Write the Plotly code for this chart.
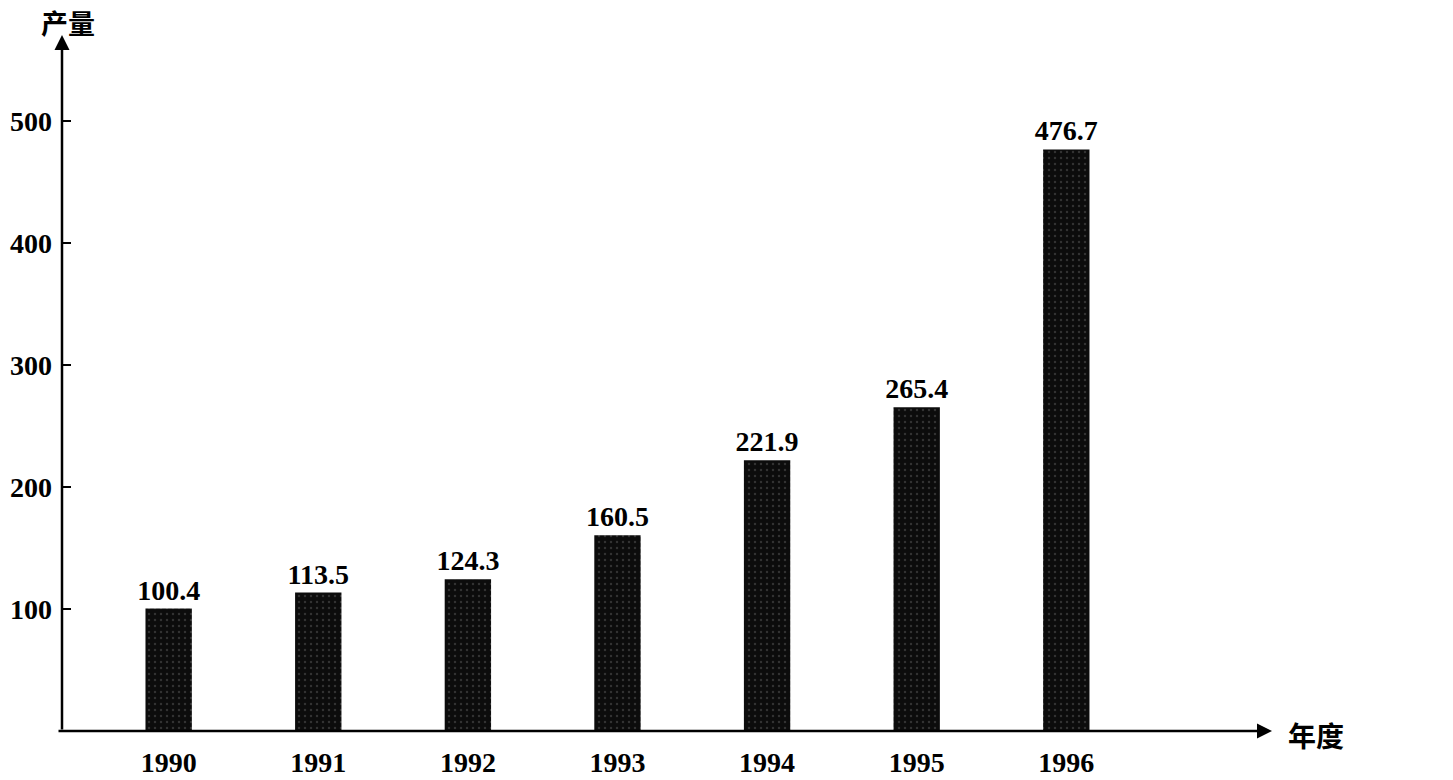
import plotly.graph_objects as go

years = [1990, 1991, 1992, 1993, 1994, 1995, 1996]
output = [100.4, 113.5, 124.3, 160.5, 221.9, 265.4, 476.7]
y_ticks = [100, 200, 300, 400, 500]
y_label = "产量"
x_label = "年度"

# page has 8px body margin; figure sized to fit the window
W, H = 1445, 772
ML, MR, MT, MB = 54, 181, 27, 49
SERIF = "Liberation Serif, Times New Roman, serif"
CJK = "Noto Sans CJK SC, sans-serif"

fig = go.Figure()
fig.add_trace(go.Bar(
    x=years, y=output, width=0.31,
    marker=dict(color="#0c0c0c", line=dict(width=0),
                pattern=dict(shape=".", fgcolor="#5a5a5a", bgcolor="#0c0c0c", size=6, solidity=0.12)),
    text=[f"{v:.1f}" for v in output], textposition="outside", constraintext="none",
    textfont=dict(family=SERIF, size=28, color="black", weight="bold"),
    cliponaxis=False,
))

fig.update_layout(
    width=W, height=H,
    margin=dict(l=ML, r=MR, t=MT, b=MB, autoexpand=False),
    plot_bgcolor="white", paper_bgcolor="white",
    showlegend=False,
    xaxis=dict(range=[1989.287, 1997.375], tickvals=years, ticktext=[str(y) for y in years],
               showgrid=False, zeroline=False, showline=False, ticks="", automargin=False,
               tickfont=dict(family=SERIF, size=28, color="black", weight="bold"),
               ticklabelstandoff=12),
    yaxis=dict(range=[0, 570.5], tickvals=y_ticks, ticktext=[str(v) for v in y_ticks],
               showgrid=False, zeroline=False, showline=False, automargin=False,
               ticks="inside", ticklen=9, tickwidth=2, tickcolor="black",
               tickfont=dict(family=SERIF, size=28, color="black", weight="bold"),
               ticklabelstandoff=9),
)

# axis lines with arrowheads
fig.add_annotation(xref="paper", yref="paper", x=1.0, y=0, ax=-1215, ay=0,
                   showarrow=True, arrowhead=2, arrowsize=1.2, arrowwidth=2.5, arrowcolor="black", text="")
fig.add_annotation(xref="paper", yref="paper", x=0, y=1.0, ax=0, ay=696,
                   showarrow=True, arrowhead=2, arrowsize=1.2, arrowwidth=2.5, arrowcolor="black", text="")

fig.add_annotation(xref="paper", yref="paper", x=0.005, y=1.0, yshift=13, text=f"<b>{y_label}</b>",
                   showarrow=False, xanchor="center", yanchor="middle",
                   font=dict(family=CJK, size=27, color="black"))
fig.add_annotation(xref="paper", yref="paper", x=1.0, y=0, xshift=44, yshift=-4, text=f"<b>{x_label}</b>",
                   showarrow=False, xanchor="center", yanchor="middle",
                   font=dict(family=CJK, size=28, color="black"))

fig.write_html("out.html")
